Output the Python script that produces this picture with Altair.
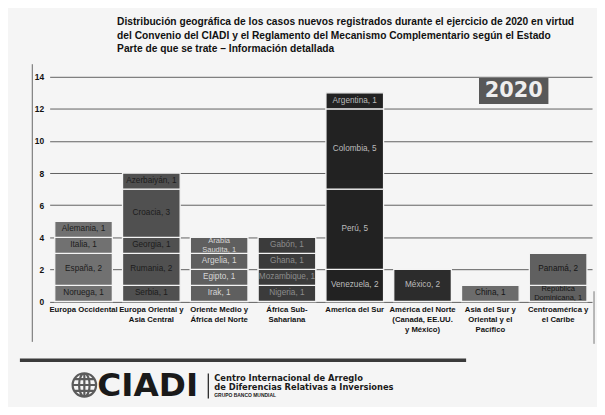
import altair as alt
import pandas as pd

# ---------------- data ----------------
regions = [
    "Europa Occidental",
    "Europa Oriental y|Asia Central",
    "Oriente Medio y|África del Norte",
    "África Sub-|Sahariana",
    "America del Sur",
    "América del Norte|(Canadá, EE.UU.|y México)",
    "Asia del Sur y|Oriental y el|Pacífico",
    "Centroamérica y|el Caribe",
]

eu_occ_labels = ["Noruega, 1", "España, 2", "Italia, 1", "Alemania, 1"]
eu_occ_values = [1, 2, 1, 1]
eu_or_labels = ["Serbia, 1", "Rumania, 2", "Georgia, 1", "Croacia, 3", "Azerbaiyán, 1"]
eu_or_values = [1, 2, 1, 3, 1]
me_labels = ["Irak, 1", "Egipto, 1", "Argelia, 1", "Arabia|Saudita, 1"]
me_values = [1, 1, 1, 1]
af_labels = ["Nigeria, 1", "Mozambique, 1", "Ghana, 1", "Gabón, 1"]
af_values = [1, 1, 1, 1]
sa_labels = ["Venezuela, 2", "Perú, 5", "Colombia, 5", "Argentina, 1"]
sa_values = [2, 5, 5, 1]
na_labels = ["México, 2"]
na_values = [2]
asia_labels = ["China, 1"]
asia_values = [1]
ca_labels = ["República|Dominicana, 1", "Panamá, 2"]
ca_values = [1, 2]

fills = ["#717171", "#505050", "#5f5f5f", "#3b3b3b", "#222222", "#2c2c2c", "#6c6c6c", "#606060"]
text_colors = ["#1c1c1c", "#1c1c1c", "#d6d6d6", "#8c8c8c", "#bcbcbc", "#bcbcbc", "#161616", "#161616"]

y_ticks = [0, 2, 4, 6, 8, 10, 12, 14]

title_lines = [
    "Distribución geográfica de los casos nuevos registrados durante el ejercicio de 2020 en virtud",
    "del Convenio del CIADI y el Reglamento del Mecanismo Complementario según el Estado",
    "Parte de que se trate – Información detallada",
]

groups = [
    (eu_occ_labels, eu_occ_values), (eu_or_labels, eu_or_values), (me_labels, me_values),
    (af_labels, af_values), (sa_labels, sa_values), (na_labels, na_values),
    (asia_labels, asia_values), (ca_labels, ca_values),
]
rows = []
for r, (labs, vals) in zip(regions, groups):
    for i, (l, v) in enumerate(zip(labs, vals)):
        rows.append({"region": r, "label": l, "value": v, "order": i})
df = pd.DataFrame(rows)

# ---------------- layout ----------------
W, H = 547, 226.6
PL, PT = 42, 67.7
FONT = "Liberation Sans"

def px(x):  # page x -> chart x
    return x - 8 - PL

def py(y):  # page y -> chart y
    return y - 8 - PT

base = alt.Chart(df)

x_axis = alt.Axis(
    title=None, labelAngle=0, ticks=False, domain=False,
    labelExpr="split(datum.label, '|')",
    labelFont=FONT, labelFontSize=7.8, labelFontWeight="bold",
    labelColor="#111111", labelLineHeight=9.8, labelPadding=4.5,
    labelLimit=200, labelOverlap=False,
)
y_axis = alt.Axis(
    title=None, values=y_ticks, ticks=False, domain=False,
    labelFont=FONT, labelFontSize=8.5, labelFontWeight="bold",
    labelColor="#111111", labelPadding=6, labelOverlap=False,
    grid=True, gridColor="#606060", gridWidth=1,
)
x_scale = alt.Scale(domain=regions, paddingInner=0.15, paddingOuter=0.075)
y_scale = alt.Scale(domain=[0, 14], nice=False)

bars = base.mark_bar(stroke="#f4f4f4", strokeWidth=1.3).encode(
    x=alt.X("region:N", sort=regions, scale=x_scale, axis=x_axis),
    y=alt.Y("value:Q", stack="zero", scale=y_scale, axis=y_axis),
    color=alt.Color("region:N", scale=alt.Scale(domain=regions, range=fills), legend=None),
    order=alt.Order("order:Q"),
)

stacked = base.transform_stack(
    stack="value", groupby=["region"], as_=["y0", "y1"],
    sort=[alt.SortField("order", order="ascending")],
).transform_calculate(
    mid="(datum.y0 + datum.y1) / 2",
    lines="split(datum.label, '|')",
    nl="length(split(datum.label, '|'))",
)

def label_layer(n, dy):
    return stacked.transform_filter(f"datum.nl == {n}").mark_text(
        font=FONT, fontSize=8.3 if n == 1 else 7.6, lineHeight=8.5,
        baseline="middle", dy=dy,
    ).encode(
        x=alt.X("region:N", sort=regions, scale=x_scale, axis=x_axis),
        y=alt.Y("mid:Q", scale=y_scale, axis=y_axis),
        text=alt.Text("lines:N"),
        color=alt.Color("region:N", scale=alt.Scale(domain=regions, range=text_colors), legend=None),
    )

labels1 = label_layer(1, 0)
labels2 = label_layer(2, -4.25)

one = pd.DataFrame({"k": [0]})
deco = alt.Chart(one)

title_layers = [
    deco.mark_text(font=FONT, fontSize=10.3, fontWeight="bold", align="left",
                   baseline="alphabetic", color="#111111").encode(
        x=alt.value(px(118)), y=alt.value(py(23.5 + 13.7 * i)), text=alt.value(t))
    for i, t in enumerate(title_lines)
]

badge = deco.mark_rect(fill="#585858").encode(
    x=alt.value(px(483)), x2=alt.value(px(553)), y=alt.value(py(77)), y2=alt.value(py(103)))
badge_txt = deco.mark_text(font="DejaVu Sans", fontSize=21, fontWeight="bold",
                           color="#eeeeee", align="center", baseline="middle").encode(
    x=alt.value(px(518)), y=alt.value(py(90.5)), text=alt.value("2020"))

frame_l = deco.mark_rule(color="#666666", strokeWidth=1).encode(
    x=alt.value(px(32.5)), y=alt.value(py(63)), y2=alt.value(py(343)))
frame_r = deco.mark_rule(color="#777777", strokeWidth=1).encode(
    x=alt.value(px(599)), y=alt.value(py(292)), y2=alt.value(py(345)))
band = deco.mark_rule(color="#3a3a3a", strokeWidth=3.5).encode(
    x=alt.value(px(20)), x2=alt.value(px(470)), y=alt.value(py(361.5)))

globe_path = ("M-1,0A1,1,0,1,1,1,0A1,1,0,1,1,-1,0Z"
              "M0,-1A0.45,1,0,1,1,0,1A0.45,1,0,1,1,0,-1Z"
              "M0,-1L0,1M-0.87,-0.5L0.87,-0.5M-1,0L1,0M-0.87,0.5L0.87,0.5")
globe = deco.mark_point(shape=globe_path, filled=False, stroke="#1a1a1a",
                        strokeWidth=2.2, size=560).encode(
    x=alt.value(px(85)), y=alt.value(py(386.5)))
ciadi = deco.mark_text(font="DejaVu Sans", fontSize=33, fontWeight="bold", color="#1a1a1a",
                       align="left", baseline="alphabetic").encode(
    x=alt.value(px(98)), y=alt.value(py(398)), text=alt.value("CIADI"))
sep = deco.mark_rule(color="#1a1a1a", strokeWidth=1.2).encode(
    x=alt.value(px(210)), y=alt.value(py(375)), y2=alt.value(py(400)))
logo_l1 = deco.mark_text(font="DejaVu Sans", fontSize=8.4, fontWeight="bold", color="#1a1a1a",
                         align="left", baseline="alphabetic").encode(
    x=alt.value(px(216)), y=alt.value(py(382.5)), text=alt.value("Centro Internacional de Arreglo"))
logo_l2 = deco.mark_text(font="DejaVu Sans", fontSize=8.4, fontWeight="bold", color="#1a1a1a",
                         align="left", baseline="alphabetic").encode(
    x=alt.value(px(216)), y=alt.value(py(392)), text=alt.value("de Diferencias Relativas a Inversiones"))
logo_l3 = deco.mark_text(font=FONT, fontSize=5, fontWeight="bold", color="#1a1a1a",
                         align="left", baseline="alphabetic").encode(
    x=alt.value(px(216)), y=alt.value(py(399)), text=alt.value("GRUPO BANCO MUNDIAL"))

chart = alt.layer(
    bars, labels1, labels2, *title_layers, badge, badge_txt, frame_l, frame_r, band,
    globe, ciadi, sep, logo_l1, logo_l2, logo_l3,
).resolve_scale(color="independent").properties(
    width=W, height=H,
    autosize=alt.AutoSizeParams(type="none"),
    padding={"left": PL, "top": PT, "right": 5, "bottom": 399 - PT - H},
    background="#f5f5f5",
).configure_view(stroke=None)

chart.save("out.html", embed_options={"renderer": "svg", "actions": False})
